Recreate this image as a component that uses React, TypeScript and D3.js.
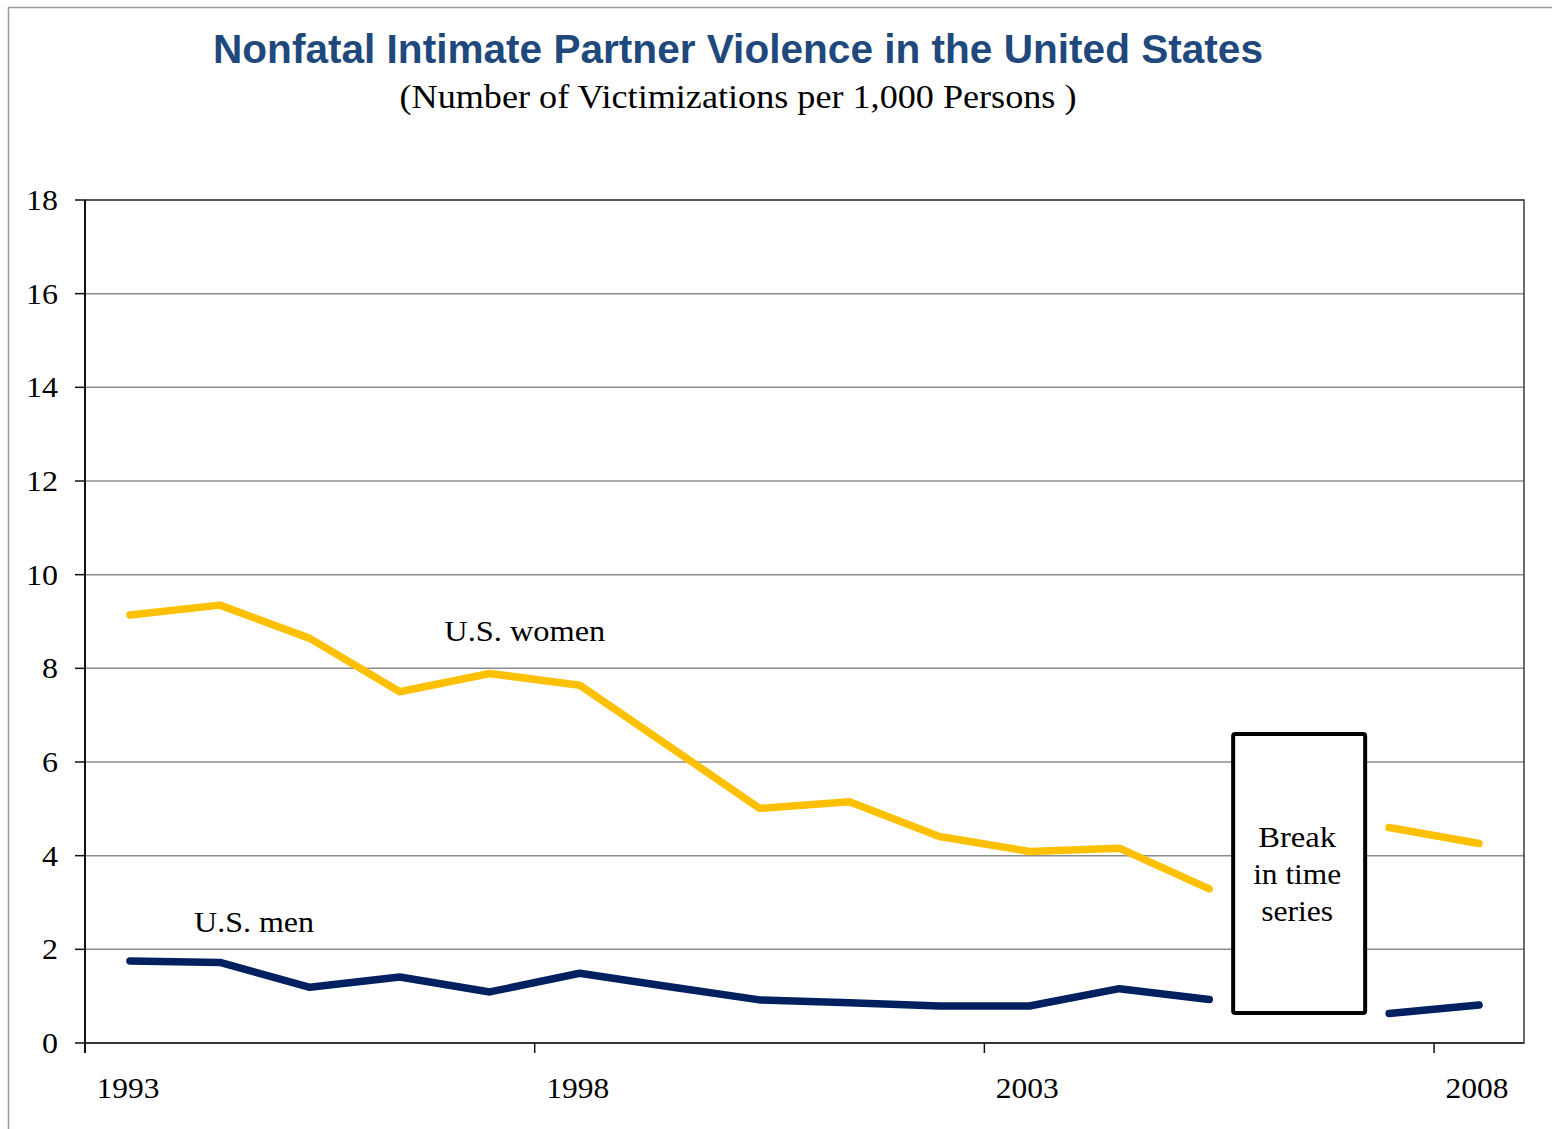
import * as d3 from 'd3';

// Years on the category axis (2006 is the break in the series)
const years = ['1993', '1994', '1995', '1996', '1997', '1998', '1999', '2000', '2001', '2002', '2003', '2004', '2005', '2006', '2007', '2008'];
const women: (number | null)[] = [9.14, 9.35, 8.64, 7.5, 7.89, 7.64, 6.33, 5.01, 5.15, 4.41, 4.09, 4.16, 3.29, null, 4.6, 4.26];
const men: (number | null)[] = [1.75, 1.72, 1.19, 1.41, 1.09, 1.49, 1.2, 0.92, 0.86, 0.79, 0.79, 1.16, 0.93, null, 0.63, 0.81];
const yTicks = [0, 2, 4, 6, 8, 10, 12, 14, 16, 18];
const xLabelYears = ['1993', '1998', '2003', '2008'];
const breakLines = ['Break', 'in time', 'series'];
const breakWidths = [78, 88, 72];

const W = 1552;
const H = 1129;
const plot = { left: 85, right: 1524, top: 200, bottom: 1043 };

const serif = '"Liberation Serif", "Times New Roman", serif';
const sans = '"Liberation Sans", Arial, sans-serif';

export default function App() {
  const x = d3.scaleBand<string>().domain(years).range([plot.left, plot.right]).padding(0);
  const y = d3.scaleLinear().domain([0, 18]).range([plot.bottom, plot.top]);
  const bw = x.bandwidth();
  const cx = (yr: string) => (x(yr) ?? 0) + bw / 2;
  // fractional year position for annotations
  const xf = d3.scaleLinear().domain([1993, 2008]).range([cx('1993'), cx('2008')]);

  const line = d3
    .line<number | null>()
    .defined((d) => d != null)
    .x((_, i) => cx(years[i]))
    .y((d) => y(d as number));

  const series = [
    { name: 'U.S. women', values: women, color: '#FFC000', labelYear: 1997.39, labelValue: 8.58, labelW: 161 },
    { name: 'U.S. men', values: men, color: '#002060', labelYear: 1994.38, labelValue: 2.37, labelW: 120 },
  ];

  // break box, in data units around 2006
  const boxX0 = cx('2006') - 66;
  const boxX1 = cx('2006') + 66;
  const boxTop = y(6.6);
  const boxBottom = y(0.64);

  return (
    <div style={{ position: 'absolute', left: 0, top: 0, width: W, height: H, background: '#fff' }}>
      <svg width={W} height={H} style={{ display: 'block' }}>
        <rect x={0} y={0} width={W} height={H} fill="#fff" />
        {/* outer frame */}
        <rect x={8.5} y={7.5} width={W + 20} height={H + 20} fill="none" stroke="#9a9a9a" strokeWidth={1.5} />

        <text x={738} y={63} textAnchor="middle" fontFamily={sans} fontWeight="bold" fontSize={40} fill="#1F497D"
          textLength={1050} lengthAdjust="spacingAndGlyphs">
          Nonfatal Intimate Partner Violence in the United States
        </text>
        <text x={738} y={108} textAnchor="middle" fontFamily={serif} fontSize={33} fill="#000"
          textLength={677} lengthAdjust="spacingAndGlyphs">
          (Number of Victimizations per 1,000 Persons )
        </text>

        {/* gridlines */}
        {yTicks.map((t) => (
          <line key={'g' + t} x1={plot.left} x2={plot.right} y1={y(t)} y2={y(t)} stroke="#8c8c8c" strokeWidth={1.5} />
        ))}
        <rect x={plot.left} y={plot.top} width={plot.right - plot.left} height={plot.bottom - plot.top}
          fill="none" stroke="#3a3a3a" strokeWidth={1.5} />
        <line x1={plot.left} x2={plot.left} y1={plot.top} y2={plot.bottom + 10} stroke="#111" strokeWidth={2} />
        <line x1={plot.left} x2={plot.right} y1={plot.bottom} y2={plot.bottom} stroke="#333" strokeWidth={2} />

        {/* y axis */}
        {yTicks.map((t) => (
          <g key={'y' + t}>
            <line x1={plot.left - 10} x2={plot.left} y1={y(t)} y2={y(t)} stroke="#111" strokeWidth={1.5} />
            <text x={58} y={y(t) + 10} textAnchor="end" fontFamily={serif} fontSize={29} fill="#000"
              textLength={String(t).length * 16} lengthAdjust="spacingAndGlyphs">{t}</text>
          </g>
        ))}

        {/* x axis */}
        {xLabelYears.map((yr) => (
          <g key={'x' + yr}>
            <line x1={x(yr)} x2={x(yr)} y1={plot.bottom} y2={plot.bottom + 10} stroke="#111" strokeWidth={1.5} />
            <text x={cx(yr) - 2} y={1098} textAnchor="middle" fontFamily={serif} fontSize={29} fill="#000"
              textLength={63} lengthAdjust="spacingAndGlyphs">{yr}</text>
          </g>
        ))}

        {/* lines */}
        {series.map((s) => (
          <path key={s.name} d={line(s.values) ?? ''} fill="none" stroke={s.color} strokeWidth={7.5}
            strokeLinecap="round" strokeLinejoin="round" />
        ))}
        {series.map((s) => (
          <text key={'l' + s.name} x={xf(s.labelYear)} y={y(s.labelValue)} textAnchor="middle"
            fontFamily={serif} fontSize={30} fill="#000" textLength={s.labelW}
            lengthAdjust="spacingAndGlyphs">{s.name}</text>
        ))}

        {/* break in time series */}
        <rect x={boxX0} y={boxTop} width={boxX1 - boxX0} height={boxBottom - boxTop} rx={2}
          fill="#fff" stroke="#000" strokeWidth={4} />
        {breakLines.map((t, i) => (
          <text key={t} x={(boxX0 + boxX1) / 2 - 2} y={boxTop + 113 + i * 37} textAnchor="middle"
            fontFamily={serif} fontSize={30} fill="#000" textLength={breakWidths[i]}
            lengthAdjust="spacingAndGlyphs">{t}</text>
        ))}
      </svg>
    </div>
  );
}
